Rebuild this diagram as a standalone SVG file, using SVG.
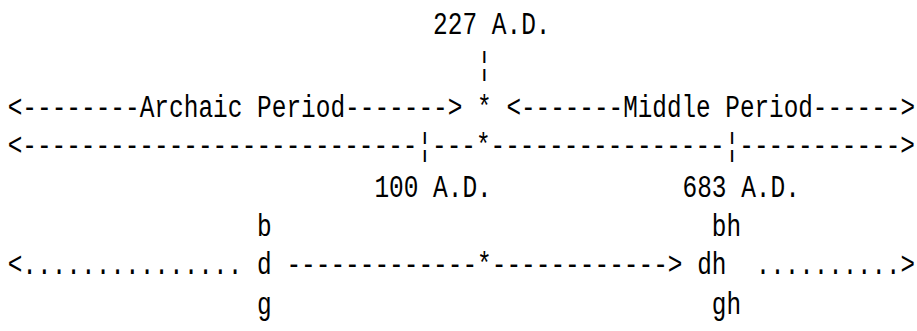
<svg xmlns="http://www.w3.org/2000/svg" width="917" height="331" viewBox="0 0 917 331">
  <style>
    text { font-family: "Liberation Mono", "DejaVu Sans Mono", monospace; font-size: 31px; fill: #000; white-space: pre; }
  </style>
  <rect width="917" height="331" fill="#fff"/>

  <!-- grid: column pitch 14.67px, column 0 starts at x=7.67 -->
  <g id="date-227">
    <text x="433.1" y="34" textLength="117.4" lengthAdjust="spacingAndGlyphs">227 A.D.</text>
    <text x="477.1" y="74" textLength="14.67" lengthAdjust="spacingAndGlyphs">¦</text>
  </g>

  <g id="period-archaic">
    <text x="7.67" y="117" textLength="454.8" lengthAdjust="spacingAndGlyphs">&lt;--------Archaic Period-------&gt;</text>
  </g>
  <g id="period-middle">
    <text x="506.4" y="117" textLength="408.6" lengthAdjust="spacingAndGlyphs">&lt;-------Middle Period------&gt;</text>
  </g>

  <g id="date-100">
    <text x="374.4" y="197" textLength="117.4" lengthAdjust="spacingAndGlyphs">100 A.D.</text>
  </g>
  <g id="date-683">
    <text x="682.5" y="197" textLength="117.4" lengthAdjust="spacingAndGlyphs">683 A.D.</text>
  </g>

  <g id="archaic-stops">
    <text x="257.1" y="236" textLength="14.67" lengthAdjust="spacingAndGlyphs">b</text>
    <text x="257.1" y="274" textLength="14.67" lengthAdjust="spacingAndGlyphs">d</text>
    <text x="257.1" y="314" textLength="14.67" lengthAdjust="spacingAndGlyphs">g</text>
  </g>
  <g id="middle-stops">
    <text x="711.8" y="236" textLength="29.3" lengthAdjust="spacingAndGlyphs">bh</text>
    <text x="697.2" y="274" textLength="29.3" lengthAdjust="spacingAndGlyphs">dh</text>
    <text x="711.8" y="314" textLength="29.3" lengthAdjust="spacingAndGlyphs">gh</text>
  </g>

  <g id="connectors">
    <text x="477.1" y="117" textLength="14.67" lengthAdjust="spacingAndGlyphs">*</text>
    <text x="7.67" y="155" textLength="907.3" lengthAdjust="spacingAndGlyphs">&lt;---------------------------¦---*----------------¦-----------&gt;</text>
    <text x="7.67" y="274" textLength="234.7" lengthAdjust="spacingAndGlyphs">&lt;...............</text>
    <text x="286.4" y="274" textLength="396.1" lengthAdjust="spacingAndGlyphs">-------------*------------&gt;</text>
    <text x="755.8" y="274" textLength="159.2" lengthAdjust="spacingAndGlyphs">..........&gt;</text>
  </g>
</svg>
